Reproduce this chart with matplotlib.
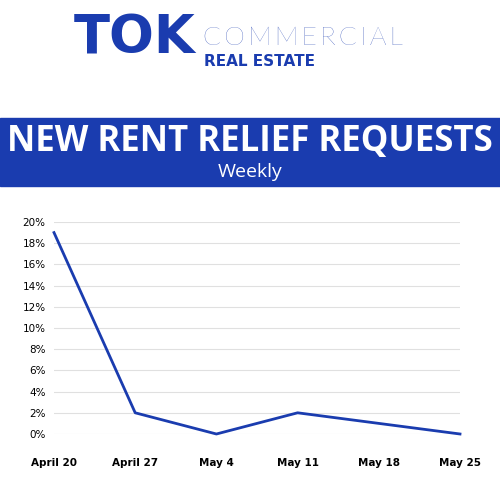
import matplotlib
matplotlib.use("Agg")
import matplotlib.pyplot as plt
from matplotlib.patches import Rectangle
from matplotlib.ticker import FuncFormatter

weeks = ["April 20", "April 27", "May 4", "May 11", "May 18", "May 25"]
requests_pct = [19, 2, 0, 2, 1, 0]
yticks = list(range(0, 21, 2))

BLUE = "#1a3caf"
fig = plt.figure(figsize=(5, 5), dpi=100)
W, H = 500, 500
def fx(x): return x / W
def fy(y): return 1 - y / H

# Logo
fig.text(fx(74), fy(38), "TOK", fontsize=38, fontweight="heavy", color=BLUE,
         family="DejaVu Sans", va="center", ha="left")
fig.text(fx(203), fy(38), "C O M M E R C I A L".replace(" ", "\u2009"), fontsize=19,
         fontweight="light", color=BLUE, family="Lato", va="center", ha="left")
fig.text(fx(204), fy(61), "REAL ESTATE", fontsize=11, fontweight="bold", color=BLUE,
         family="DejaVu Sans", va="center", ha="left")

# Banner
fig.patches.append(Rectangle((0, fy(186)), 1, (186 - 118) / H, transform=fig.transFigure,
                             color=BLUE, zorder=0))
fig.text(0.5, fy(142), "NEW RENT RELIEF REQUESTS", fontsize=25, fontweight="bold",
         color="white", family="Open Sans", va="center", ha="center")
fig.text(0.5, fy(172), "Weekly", fontsize=14, color="white", family="Open Sans",
         va="center", ha="center")

ax = fig.add_axes([fx(54), fy(434), fx(460) - fx(54), (434 - 222) / H])
x = list(range(len(weeks)))
ax.plot(x, requests_pct, color=BLUE, lw=2, clip_on=False)
ax.set_ylim(0, 20)
ax.set_xlim(0, len(weeks) - 1)
ax.set_yticks(yticks)
ax.yaxis.set_major_formatter(FuncFormatter(lambda v, p: f"{int(v)}%"))
ax.set_xticks(x)
ax.set_xticklabels(weeks, fontweight="bold", fontsize=7.5)
ax.tick_params(axis="y", labelsize=7.5, length=0, pad=6)
ax.tick_params(axis="x", length=0, pad=17)
ax.grid(axis="y", color="#e0e0e0", lw=0.8)
for s in ax.spines.values():
    s.set_visible(False)

fig.savefig("out.png", dpi=100)
